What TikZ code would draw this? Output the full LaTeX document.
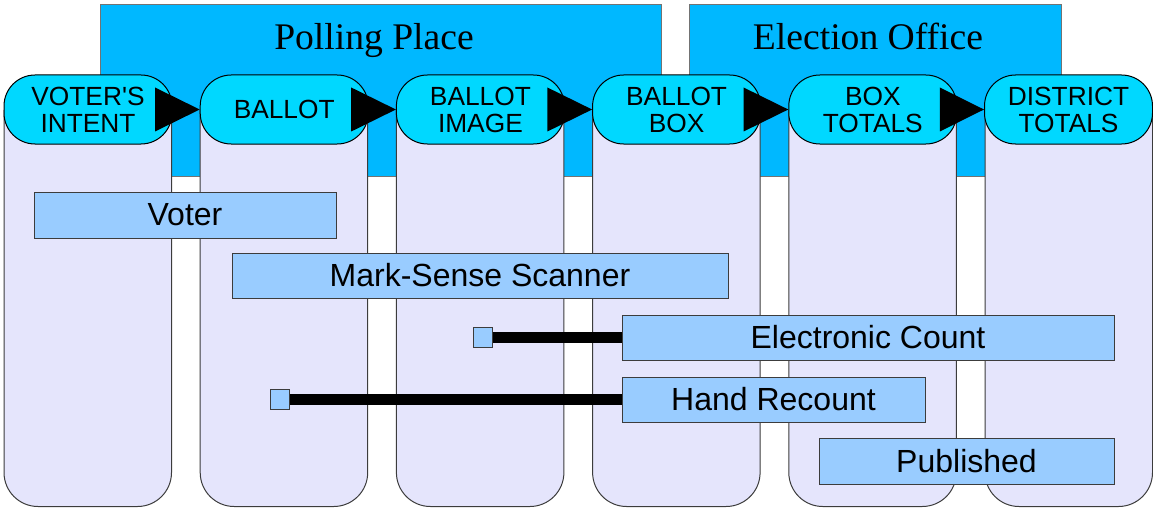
\documentclass[tikz,border=0pt]{standalone}
\usepackage{fontspec}
\setmainfont{Liberation Serif}
\setsansfont{Liberation Sans}
\usetikzlibrary{calc}
\definecolor{bgblue}{RGB}{0,184,255}
\definecolor{hdrcyan}{RGB}{0,216,255}
\definecolor{colfill}{RGB}{229,229,252}
\definecolor{taskblue}{RGB}{153,204,255}
\definecolor{edgegray}{RGB}{60,60,60}
\begin{document}
\begin{tikzpicture}[x=1pt,y=-1pt,
 area/.style={draw=black!55, fill=bgblue, line width=1pt},
 colbody/.style={draw=edgegray, fill=colfill, line width=1pt, rounded corners=34pt},
 hdr/.style={draw=black, fill=hdrcyan, line width=1pt, rounded corners=31pt, minimum width=168pt, minimum height=69pt, inner sep=0pt, align=center, font=\sffamily\fontsize{26.3}{27}\selectfont},
 task/.style={draw=edgegray, fill=taskblue, line width=1pt, inner sep=0pt, font=\sffamily\fontsize{32}{34}\selectfont},
 handle/.style={draw=edgegray, fill=taskblue, line width=1pt, minimum width=19pt, minimum height=20pt, inner sep=0pt},
 link/.style={line width=10.5pt, black},
 tri/.style={fill=black},
 areatitle/.style={anchor=base, inner sep=0pt, font=\fontsize{37.6}{40}\selectfont}
]
\useasboundingbox (0,0) rectangle (1153,508);
% background areas
\path[area] (100,5) rectangle (661.5,176.5);
\path[area] (689.5,5) rectangle (1061,176.5);
\node[areatitle] (tpoll) at (374,50) {Polling Place};
\node[areatitle] (toff) at (868,50) {Election Office};
% columns
\foreach \x in {4,200.2,396.4,592.6,788.8,985}{
  \path[colbody] (\x,110) -- (\x,506.5) -- (\x+167.5,506.5) -- (\x+167.5,110);
}
% headers
\node[hdr] (h1) at (88,109.5) {VOTER\textquotesingle S\\INTENT};
\node[hdr] (h2) at (284.2,109.5) {BALLOT};
\node[hdr] (h3) at (480.4,109.5) {BALLOT\\IMAGE};
\node[hdr] (h4) at (676.6,109.5) {BALLOT\\BOX};
\node[hdr] (h5) at (872.8,109.5) {BOX\\TOTALS};
\node[hdr] (h6) at (1068.5,109.5) {DISTRICT\\TOTALS};
% arrow triangles between headers
\foreach \a/\b in {h1/h2,h2/h3,h3/h4,h4/h5,h5/h6}{
  \fill[tri] ($(\a.east)+(-17.5,-22)$) -- ($(\a.east)+(-17.5,22)$) -- (\b.west) -- cycle;
}
% tasks
\node[task, minimum width=302pt, minimum height=46pt] (voter) at (185,215) {Voter};
\node[task, minimum width=496pt, minimum height=45pt] (scan) at (480,275.5) {Mark-Sense Scanner};
\node[task, minimum width=492pt, minimum height=45pt] (ecount) at (868,337.5) {Electronic Count};
\node[task, minimum width=303pt, minimum height=45pt] (hand) at (773.5,399.5) {Hand Recount};
\node[task, minimum width=295pt, minimum height=46pt] (pub) at (966.5,461) {Published};
% handles and links
\node[handle] (sq1) at (482.5,337.5) {};
\node[handle] (sq2) at (280,399.5) {};
\draw[link] (sq1.east) -- (ecount.west);
\draw[link] (sq2.east) -- (hand.west);
\end{tikzpicture}
\end{document}
